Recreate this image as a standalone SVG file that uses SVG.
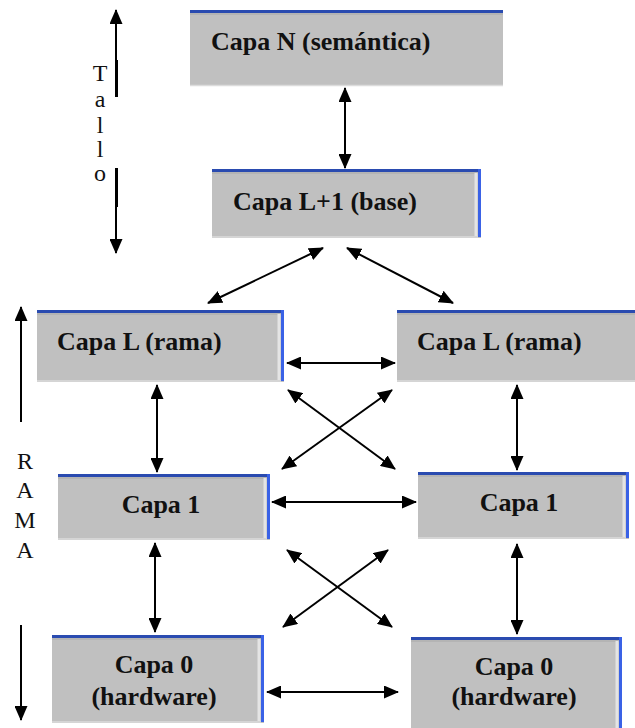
<svg xmlns="http://www.w3.org/2000/svg" width="635" height="728" viewBox="0 0 635 728">
  <style>
    .face { fill: #c0c0c0; }
    .shade { fill: #b4b4b4; }
    .top { stroke: #2a4bb0; stroke-width: 3; fill: none; }
    .side { stroke: #3a62e6; stroke-width: 3; fill: none; }
    .bevel { stroke: #e4e4e4; stroke-width: 3; fill: none; }
    .base { stroke: #dcdcdc; stroke-width: 1.5; fill: none; }
    .lbl { font-family: "Liberation Serif", "Times New Roman", serif; font-weight: bold; font-size: 26px; fill: #111; }
    .side-lbl { font-family: "Liberation Serif", "Times New Roman", serif; font-size: 24px; fill: #111; text-anchor: middle; }
    .link { stroke: #000; stroke-width: 2; fill: none; marker-end: url(#head); }
    .link2 { stroke: #000; stroke-width: 2; fill: none; marker-start: url(#head); marker-end: url(#head); }
  </style>
  <defs>
    <marker id="head" viewBox="0 0 15 13" refX="14" refY="6.5" markerWidth="15" markerHeight="13" markerUnits="userSpaceOnUse" orient="auto-start-reverse">
      <path d="M0,0 L15,6.5 L0,13 Z" fill="#000"/>
    </marker>
  </defs>

  <rect width="635" height="728" fill="#fff"/>

  <!-- layer boxes -->
  <g id="capa-n">
    <rect class="face" x="190" y="10" width="313" height="76"/>
    <rect class="shade" x="190" y="11" width="313" height="4"/>
    <line class="base" x1="190" y1="85.5" x2="503" y2="85.5"/>
    <line class="top" x1="190" y1="11.5" x2="503" y2="11.5"/>
    <text class="lbl" x="211" y="50">Capa N (semántica)</text>
  </g>

  <g id="capa-l1">
    <rect class="face" x="212" y="169" width="269" height="69"/>
    <rect class="shade" x="212" y="170" width="269" height="4"/>
    <line class="base" x1="212" y1="237" x2="478" y2="237"/>
    <line class="bevel" x1="476" y1="173" x2="476" y2="236"/>
    <line class="top" x1="212" y1="170.5" x2="481" y2="170.5"/>
    <line class="side" x1="479.5" y1="169" x2="479.5" y2="237"/>
    <text class="lbl" x="233" y="210">Capa L+1 (base)</text>
  </g>

  <g id="capa-l-izq">
    <rect class="face" x="37" y="310" width="247" height="72"/>
    <rect class="shade" x="37" y="311" width="247" height="4"/>
    <line class="base" x1="37" y1="381" x2="281" y2="381"/>
    <line class="bevel" x1="279" y1="314" x2="279" y2="380"/>
    <line class="top" x1="37" y1="311.5" x2="284" y2="311.5"/>
    <line class="side" x1="282.5" y1="310" x2="282.5" y2="381"/>
    <text class="lbl" x="57" y="350">Capa L (rama)</text>
  </g>

  <g id="capa-l-der">
    <rect class="face" x="397" y="310" width="240" height="72"/>
    <rect class="shade" x="397" y="311" width="240" height="4"/>
    <line class="base" x1="397" y1="381" x2="637" y2="381"/>
    <line class="top" x1="397" y1="311.5" x2="637" y2="311.5"/>
    <text class="lbl" x="417" y="350">Capa L (rama)</text>
  </g>

  <g id="capa-1-izq">
    <rect class="face" x="58" y="474" width="212" height="66"/>
    <rect class="shade" x="58" y="475" width="212" height="4"/>
    <line class="base" x1="58" y1="539" x2="267" y2="539"/>
    <line class="bevel" x1="265" y1="478" x2="265" y2="538"/>
    <line class="top" x1="58" y1="475.5" x2="270" y2="475.5"/>
    <line class="side" x1="268.5" y1="474" x2="268.5" y2="539"/>
    <text class="lbl" x="161" y="513" text-anchor="middle">Capa 1</text>
  </g>

  <g id="capa-1-der">
    <rect class="face" x="418" y="472" width="211" height="67"/>
    <rect class="shade" x="418" y="473" width="211" height="4"/>
    <line class="base" x1="418" y1="538" x2="626" y2="538"/>
    <line class="bevel" x1="624" y1="476" x2="624" y2="537"/>
    <line class="top" x1="418" y1="473.5" x2="629" y2="473.5"/>
    <line class="side" x1="627.5" y1="472" x2="627.5" y2="538"/>
    <text class="lbl" x="519" y="511" text-anchor="middle">Capa 1</text>
  </g>

  <g id="capa-0-izq">
    <rect class="face" x="52" y="635" width="212" height="88"/>
    <rect class="shade" x="52" y="636" width="212" height="4"/>
    <line class="base" x1="52" y1="722" x2="261" y2="722"/>
    <line class="bevel" x1="259" y1="639" x2="259" y2="721"/>
    <line class="top" x1="52" y1="636.5" x2="264" y2="636.5"/>
    <line class="side" x1="262.5" y1="635" x2="262.5" y2="722"/>
    <text class="lbl" x="154" y="673" text-anchor="middle">Capa 0</text>
    <text class="lbl" x="154" y="705" text-anchor="middle">(hardware)</text>
  </g>

  <g id="capa-0-der">
    <rect class="face" x="411" y="637" width="211" height="93"/>
    <rect class="shade" x="411" y="638" width="211" height="4"/>
    <line class="bevel" x1="617" y1="641" x2="617" y2="730"/>
    <line class="top" x1="411" y1="638.5" x2="622" y2="638.5"/>
    <line class="side" x1="620.5" y1="637" x2="620.5" y2="730"/>
    <text class="lbl" x="514" y="675" text-anchor="middle">Capa 0</text>
    <text class="lbl" x="514" y="705" text-anchor="middle">(hardware)</text>
  </g>

  <!-- connectors -->
  <g id="connectors">
    <line class="link2" x1="345" y1="88" x2="345" y2="168"/>
    <line class="link2" x1="323" y1="248" x2="208" y2="303"/>
    <line class="link2" x1="347" y1="248" x2="453" y2="303"/>
    <line class="link2" x1="287" y1="363" x2="395" y2="363"/>
    <line class="link2" x1="288" y1="390" x2="395" y2="469"/>
    <line class="link2" x1="392" y1="390" x2="282" y2="469"/>
    <line class="link2" x1="157" y1="385" x2="157" y2="472"/>
    <line class="link2" x1="517" y1="385" x2="517" y2="470"/>
    <line class="link2" x1="272" y1="502" x2="416" y2="502"/>
    <line class="link2" x1="287" y1="550" x2="392" y2="627"/>
    <line class="link2" x1="388" y1="550" x2="283" y2="627"/>
    <line class="link2" x1="155" y1="543" x2="155" y2="632"/>
    <line class="link2" x1="517" y1="544" x2="517" y2="634"/>
    <line class="link2" x1="267" y1="692" x2="398" y2="692"/>
  </g>

  <!-- side scales -->
  <g id="tallo">
    <line class="link" x1="116" y1="97" x2="116" y2="10"/>
    <line x1="116.5" y1="60" x2="116.5" y2="97" stroke="#000" stroke-width="3"/>
    <line class="link" x1="116" y1="168" x2="116" y2="253"/>
    <line x1="116.5" y1="168" x2="116.5" y2="207" stroke="#000" stroke-width="3"/>
    <text class="side-lbl" x="100" y="81">T</text>
    <text class="side-lbl" x="100" y="107">a</text>
    <text class="side-lbl" x="100" y="133">l</text>
    <text class="side-lbl" x="100" y="157">l</text>
    <text class="side-lbl" x="100" y="181">o</text>
  </g>

  <g id="rama">
    <line class="link" x1="21" y1="422" x2="21" y2="307"/>
    <line class="link" x1="21" y1="625" x2="21" y2="720"/>
    <text class="side-lbl" x="25" y="469">R</text>
    <text class="side-lbl" x="25" y="498">A</text>
    <text class="side-lbl" x="25" y="528">M</text>
    <text class="side-lbl" x="25" y="558">A</text>
  </g>
</svg>
